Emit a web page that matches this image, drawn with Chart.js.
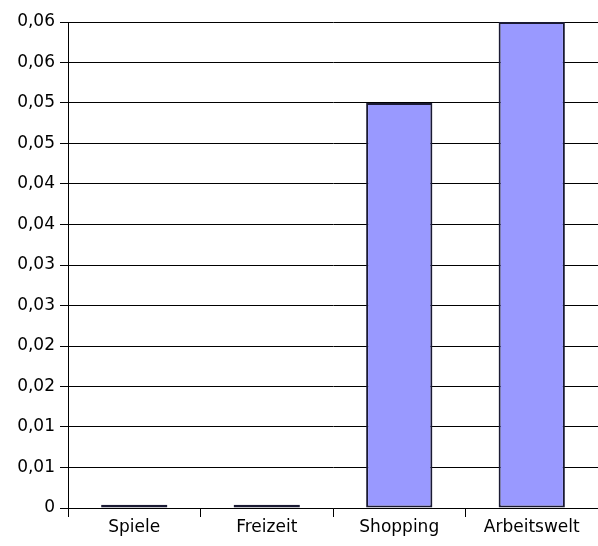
<!DOCTYPE html>
<html>
<head>
<meta charset="utf-8">
<script src="https://cdn.jsdelivr.net/npm/chart.js@4"></script>
<style>
  html, body { margin: 0; padding: 0; background: #fff; }
  #wrap { width: 598px; height: 546px; }
</style>
</head>
<body>
<div id="wrap"><canvas id="chart" width="598" height="546"></canvas></div>
<script>
// categories and values
const categories = ["Spiele", "Freizeit", "Shopping", "Arbeitswelt"];
const values = [0.0004, 0.0004, 0.05, 0.06];

// y ticks every 0.005, labels rounded to two decimals as in the original
const tickLabels = ["0", "0,01", "0,01", "0,02", "0,02", "0,03", "0,03",
                    "0,04", "0,04", "0,05", "0,05", "0,06", "0,06"];

const ctx = document.getElementById("chart").getContext("2d");

new Chart(ctx, {
  type: "bar",
  data: {
    labels: categories,
    datasets: [{
      data: values,
      backgroundColor: "#9999ff",
      borderColor: "#1a1a33",
      borderWidth: 2,
      borderSkipped: false,
      categoryPercentage: 1,
      barPercentage: 0.5
    }]
  },
  options: {
    responsive: false,
    animation: false,
    layout: { padding: { top: 22, right: 0, left: 0, bottom: 0 } },
    plugins: {
      legend: { display: false },
      tooltip: { enabled: false }
    },
    scales: {
      y: {
        min: 0,
        max: 0.06,
        afterFit: (scale) => { scale.width = 68; },
        ticks: {
          stepSize: 0.005,
          color: "#000",
          padding: 5,
          font: { family: "DejaVu Sans", size: 17 },
          callback: (v, i) => tickLabels[i]
        },
        grid: { color: "#000", lineWidth: 1, tickLength: 8 },
        border: { color: "#000", width: 1 }
      },
      x: {
        afterFit: (scale) => { scale.height = 38; },
        ticks: {
          color: "#000",
          padding: 0,
          font: { family: "DejaVu Sans", size: 17 }
        },
        grid: {
          offset: true,
          drawOnChartArea: false,
          drawTicks: true,
          tickLength: 9,
          color: "#000"
        },
        border: { color: "#000", width: 1 }
      }
    }
  }
});
</script>
</body>
</html>
